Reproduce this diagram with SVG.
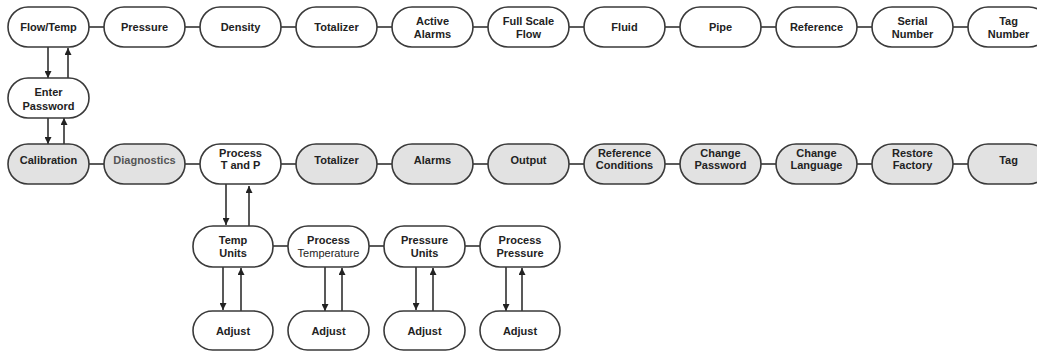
<svg xmlns="http://www.w3.org/2000/svg" width="1037" height="352" viewBox="0 0 1037 352">
<style>
.n rect{fill:#fff;stroke:#3a3a3a;stroke-width:1.6}
.g rect{fill:#e2e2e2}
text{font-family:"Liberation Sans",Arial,sans-serif;font-size:11px;font-weight:bold;fill:#222;text-anchor:middle}
.lt{font-weight:normal}
.dim{fill:#555}
.c line{stroke:#333;stroke-width:1.6}
.a line{stroke:#222;stroke-width:1.5}
</style>
<defs>
<marker id="ah" viewBox="0 0 8 8" refX="8" refY="4" markerWidth="7" markerHeight="7" markerUnits="userSpaceOnUse" orient="auto"><path d="M0,0 L8,4 L0,8 z" fill="#222"/></marker>
</defs>
<rect width="1037" height="352" fill="#fff"/>
<g class="c">
<line x1="89" y1="27" x2="104" y2="27"/><line x1="185" y1="27" x2="200" y2="27"/><line x1="281" y1="27" x2="296" y2="27"/><line x1="377" y1="27" x2="392" y2="27"/><line x1="473" y1="27" x2="488" y2="27"/><line x1="569" y1="27" x2="584" y2="27"/><line x1="665" y1="27" x2="680" y2="27"/><line x1="761" y1="27" x2="776" y2="27"/><line x1="857" y1="27" x2="872" y2="27"/><line x1="953" y1="27" x2="968" y2="27"/>
<line x1="89" y1="164" x2="104" y2="164"/><line x1="185" y1="164" x2="200" y2="164"/><line x1="281" y1="164" x2="296" y2="164"/><line x1="377" y1="164" x2="392" y2="164"/><line x1="473" y1="164" x2="488" y2="164"/><line x1="569" y1="164" x2="584" y2="164"/><line x1="665" y1="164" x2="680" y2="164"/><line x1="761" y1="164" x2="776" y2="164"/><line x1="857" y1="164" x2="872" y2="164"/><line x1="953" y1="164" x2="968" y2="164"/>
<line x1="273" y1="246" x2="288" y2="246"/><line x1="369" y1="246" x2="384" y2="246"/><line x1="465" y1="246" x2="480" y2="246"/>
</g>
<g class="a">
<line x1="48" y1="47" x2="48" y2="78" marker-end="url(#ah)"/><line x1="68" y1="78" x2="68" y2="48" marker-end="url(#ah)"/>
<line x1="48" y1="118" x2="48" y2="144" marker-end="url(#ah)"/><line x1="64" y1="144" x2="64" y2="118" marker-end="url(#ah)"/>
<line x1="226" y1="184" x2="226" y2="225" marker-end="url(#ah)"/><line x1="249" y1="226" x2="249" y2="186" marker-end="url(#ah)"/>
<line x1="223" y1="267" x2="223" y2="310" marker-end="url(#ah)"/><line x1="241" y1="311" x2="241" y2="268" marker-end="url(#ah)"/>
<line x1="325" y1="267" x2="325" y2="311" marker-end="url(#ah)"/><line x1="342" y1="311" x2="342" y2="268" marker-end="url(#ah)"/>
<line x1="416" y1="267" x2="416" y2="310" marker-end="url(#ah)"/><line x1="433" y1="311" x2="433" y2="268" marker-end="url(#ah)"/>
<line x1="506" y1="267" x2="506" y2="311" marker-end="url(#ah)"/><line x1="522" y1="311" x2="522" y2="268" marker-end="url(#ah)"/>
</g>
<g id="flowtemp" class="n"><rect x="8" y="7" width="81" height="40" rx="20"/><text x="48.5" y="31">Flow/Temp</text></g>
<g id="pressure" class="n"><rect x="104" y="7" width="81" height="40" rx="20"/><text x="144.5" y="31">Pressure</text></g>
<g id="density" class="n"><rect x="200" y="7" width="81" height="40" rx="20"/><text x="240.5" y="31">Density</text></g>
<g id="totalizer1" class="n"><rect x="296" y="7" width="81" height="40" rx="20"/><text x="336.5" y="31">Totalizer</text></g>
<g id="activealarms" class="n"><rect x="392" y="7" width="81" height="40" rx="20"/><text x="432.5" y="25">Active</text><text x="432.5" y="38">Alarms</text></g>
<g id="fullscale" class="n"><rect x="488" y="7" width="81" height="40" rx="20"/><text x="528.5" y="25">Full Scale</text><text x="528.5" y="38">Flow</text></g>
<g id="fluid" class="n"><rect x="584" y="7" width="81" height="40" rx="20"/><text x="624.5" y="31">Fluid</text></g>
<g id="pipe" class="n"><rect x="680" y="7" width="81" height="40" rx="20"/><text x="720.5" y="31">Pipe</text></g>
<g id="reference" class="n"><rect x="776" y="7" width="81" height="40" rx="20"/><text x="816.5" y="31">Reference</text></g>
<g id="serial" class="n"><rect x="872" y="7" width="81" height="40" rx="20"/><text x="912.5" y="25">Serial</text><text x="912.5" y="38">Number</text></g>
<g id="tagnumber" class="n"><rect x="968" y="7" width="81" height="40" rx="20"/><text x="1008.5" y="25">Tag</text><text x="1008.5" y="38">Number</text></g>
<g id="enterpassword" class="n"><rect x="8" y="78" width="81" height="40" rx="20"/><text x="48.5" y="96">Enter</text><text x="48.5" y="110">Password</text></g>
<g id="calibration" class="n g"><rect x="8" y="144" width="81" height="40" rx="20"/><text x="48.5" y="164">Calibration</text></g>
<g id="diagnostics" class="n g"><rect x="104" y="144" width="81" height="40" rx="20"/><text class="dim" x="144.5" y="164">Diagnostics</text></g>
<g id="processtp" class="n"><rect x="200" y="144" width="81" height="40" rx="20"/><text x="240.5" y="157">Process</text><text x="240.5" y="169">T and P</text></g>
<g id="totalizer2" class="n g"><rect x="296" y="144" width="81" height="40" rx="20"/><text x="336.5" y="164">Totalizer</text></g>
<g id="alarms" class="n g"><rect x="392" y="144" width="81" height="40" rx="20"/><text x="432.5" y="164">Alarms</text></g>
<g id="output" class="n g"><rect x="488" y="144" width="81" height="40" rx="20"/><text x="528.5" y="164">Output</text></g>
<g id="refcond" class="n g"><rect x="584" y="144" width="81" height="40" rx="20"/><text x="624.5" y="157">Reference</text><text x="624.5" y="169">Conditions</text></g>
<g id="changepw" class="n g"><rect x="680" y="144" width="81" height="40" rx="20"/><text x="720.5" y="157">Change</text><text x="720.5" y="169">Password</text></g>
<g id="changelang" class="n g"><rect x="776" y="144" width="81" height="40" rx="20"/><text x="816.5" y="157">Change</text><text x="816.5" y="169">Language</text></g>
<g id="restore" class="n g"><rect x="872" y="144" width="81" height="40" rx="20"/><text x="912.5" y="157">Restore</text><text x="912.5" y="169">Factory</text></g>
<g id="tag" class="n g"><rect x="968" y="144" width="81" height="40" rx="20"/><text x="1008.5" y="164">Tag</text></g>
<g id="tempunits" class="n"><rect x="193" y="226" width="80" height="41" rx="20"/><text x="233" y="244">Temp</text><text x="233" y="257">Units</text></g>
<g id="processtemp" class="n"><rect x="288" y="226" width="81" height="41" rx="20"/><text x="328.5" y="244">Process</text><text class="lt" x="328.5" y="257">Temperature</text></g>
<g id="pressureunits" class="n"><rect x="384" y="226" width="81" height="41" rx="20"/><text x="424.5" y="244">Pressure</text><text x="424.5" y="257">Units</text></g>
<g id="processpressure" class="n"><rect x="480" y="226" width="80" height="41" rx="20"/><text x="520" y="244">Process</text><text x="520" y="257">Pressure</text></g>
<g id="adjust1" class="n"><rect x="193" y="311" width="80" height="39" rx="19.5"/><text x="233" y="335">Adjust</text></g>
<g id="adjust2" class="n"><rect x="288" y="311" width="81" height="39" rx="19.5"/><text x="328.5" y="335">Adjust</text></g>
<g id="adjust3" class="n"><rect x="384" y="311" width="81" height="39" rx="19.5"/><text x="424.5" y="335">Adjust</text></g>
<g id="adjust4" class="n"><rect x="480" y="311" width="80" height="39" rx="19.5"/><text x="520" y="335">Adjust</text></g>
</svg>
